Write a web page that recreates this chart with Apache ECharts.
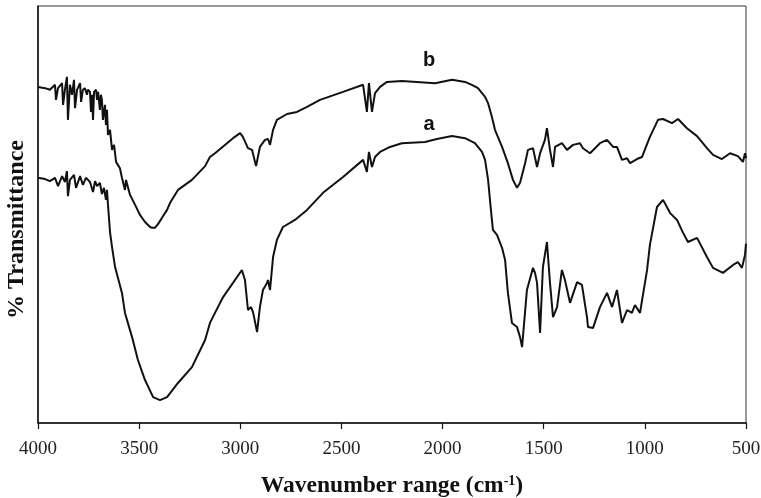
<!DOCTYPE html>
<html>
<head>
<meta charset="utf-8">
<script src="https://cdn.jsdelivr.net/npm/echarts@6/dist/echarts.min.js"></script>
<style>html,body{margin:0;padding:0;background:#fff}#c{width:761px;height:498px}</style>
</head>
<body>
<div id="c"></div>
<script>
// Wavenumber (cm-1) and % transmittance (arbitrary offset scale)
const bWave = [4000,3965,3941,3916,3911,3901,3881,3876,3867,3857,3852,3842,3832,3822,3817,3807,3792,3787,3778,3768,3758,3753,3743,3738,3733,3728,3723,3713,3708,3703,3694,3689,3684,3679,3669,3664,3659,3654,3644,3634,3624,3614,3605,3595,3585,3570,3565,3545,3520,3496,3471,3446,3436,3422,3407,3387,3362,3347,3308,3239,3174,3150,3125,3036,3001,2987,2962,2942,2922,2903,2878,2863,2853,2838,2819,2769,2720,2670,2606,2492,2393,2374,2364,2349,2334,2309,2275,2201,2037,1953,1889,1855,1825,1790,1775,1756,1741,1706,1677,1652,1632,1617,1592,1578,1553,1533,1518,1494,1484,1469,1454,1444,1410,1385,1355,1321,1306,1271,1222,1187,1157,1138,1113,1088,1073,1039,1014,975,935,910,866,836,792,742,693,663,619,579,540,515,505,500];
const bTrans = [80.6,80.3,79.9,81.1,77.5,80.3,81.5,76.3,79.9,83.0,72.7,81.1,78.7,82.3,75.5,79.9,81.5,77.0,79.9,80.3,78.7,79.9,79.4,74.6,78.7,72.7,79.4,79.9,77.5,79.4,75.1,78.7,77.5,72.7,76.3,71.5,75.1,69.1,70.3,65.5,66.7,62.6,61.9,61.1,58.8,55.9,58.3,54.7,52.3,49.9,48.2,47.0,46.8,46.8,47.7,49.2,51.1,52.8,55.9,58.3,61.6,63.8,64.7,68.3,69.5,68.6,65.9,65.5,61.6,66.2,67.9,68.1,66.7,70.3,72.7,74.1,74.6,75.8,77.5,79.4,81.1,74.6,81.5,74.6,79.1,80.6,81.8,82.0,81.5,82.3,81.8,81.1,80.3,78.2,76.7,73.4,70.3,66.2,62.3,58.3,56.4,57.6,62.3,65.5,65.9,61.4,64.7,67.9,70.7,65.5,61.4,66.2,67.1,65.5,66.7,67.1,65.9,64.7,67.1,67.9,66.2,66.2,63.1,63.5,62.3,63.3,63.8,68.6,72.7,72.9,71.9,72.9,70.7,68.8,65.9,64.3,63.3,64.7,64.0,62.6,64.7,63.5];

const aWave = [4000,3965,3941,3916,3901,3881,3867,3857,3852,3842,3822,3812,3792,3778,3763,3753,3743,3728,3718,3708,3694,3684,3674,3664,3659,3654,3644,3634,3619,3585,3570,3535,3506,3471,3431,3397,3362,3308,3239,3174,3150,3125,3085,3036,2992,2977,2962,2947,2937,2917,2903,2888,2868,2863,2853,2838,2819,2789,2730,2670,2591,2492,2393,2374,2364,2349,2334,2309,2260,2201,2087,2028,1953,1889,1840,1805,1790,1775,1761,1751,1731,1706,1691,1677,1657,1632,1617,1607,1583,1553,1543,1533,1518,1504,1484,1469,1454,1434,1410,1395,1370,1335,1311,1286,1281,1256,1222,1187,1162,1138,1113,1088,1064,1049,1024,989,975,940,910,876,841,811,787,742,693,663,614,564,540,520,505,500];
const aTrans = [58.8,58.5,58.0,58.8,56.8,59.2,57.8,60.4,54.4,58.3,59.5,56.4,59.2,57.1,58.8,58.3,57.8,55.4,58.0,56.8,57.6,54.9,56.4,53.5,55.9,52.3,45.8,42.2,37.4,31.2,26.4,20.6,15.1,10.3,6.2,5.5,6.2,9.6,13.4,19.9,24.0,26.4,30.2,33.6,36.7,34.3,27.1,27.8,26.6,21.8,27.8,31.9,33.6,34.3,31.9,39.8,43.9,47.0,48.7,51.1,55.2,59.0,63.1,60.2,65.0,61.4,63.8,65.0,66.2,67.1,67.4,68.1,68.8,68.3,67.1,65.0,63.1,58.3,51.1,46.3,45.1,42.0,39.1,31.2,24.0,23.0,20.6,18.2,31.9,37.2,36.0,33.6,21.6,37.4,43.4,33.6,25.4,27.8,36.7,34.3,28.8,33.8,33.1,25.4,23.0,22.8,27.8,31.2,27.8,31.9,24.0,27.1,26.4,28.3,26.4,36.7,42.7,51.8,53.5,50.4,48.7,45.6,43.4,44.4,39.8,37.2,36.0,37.9,38.6,37.2,40.3,43.0];

const xTicks = [4000,3500,3000,2500,2000,1500,1000,500];
const labelA = {name:'a', wave:2067, trans:71.5};
const labelB = {name:'b', wave:2067, trans:87.0};

const zip = (xs, ys) => xs.map((x, i) => [x, ys[i]]);
const chart = echarts.init(document.getElementById('c'), null, {renderer:'canvas'});
const lineStyle = {color:'#111', width:2};
const labelMark = (l) => ({
  symbol:'circle', symbolSize:0, silent:true,
  label:{show:true, position:'inside', formatter:l.name, fontFamily:'Liberation Sans', fontWeight:'bold', fontSize:20, color:'#111'},
  data:[{coord:[l.wave, l.trans]}]
});
chart.setOption({
  animation:false,
  backgroundColor:'#fff',
  grid:{left:38, right:15, top:6, bottom:75, containLabel:false, outerBoundsMode:'none',
    show:true, borderColor:'#333', borderWidth:1, backgroundColor:'transparent'},
  xAxis:{
    type:'value', inverse:true, min:500, max:4000, interval:500,
    axisLine:{show:true, onZero:false, lineStyle:{color:'#111', width:1.5}},
    axisTick:{show:true, inside:false, length:6, lineStyle:{color:'#111', width:1.2}},
    axisLabel:{show:true, margin:17, fontFamily:'Liberation Serif', fontSize:19, color:'#222',
      formatter:(v)=> xTicks.includes(v) ? String(v) : ''},
    splitLine:{show:false},
    name:'Wavenumber range (cm{sup|-1})',
    nameLocation:'middle', nameGap:51,
    nameTextStyle:{fontFamily:'Liberation Serif', fontWeight:'bold', fontSize:23.5, color:'#111',
      rich:{sup:{fontFamily:'Liberation Serif', fontWeight:'bold', fontSize:14, color:'#111', verticalAlign:'top', padding:[0,0,10,0]}}}
  },
  yAxis:{
    type:'value', min:0, max:100,
    axisLine:{show:true, onZero:false, lineStyle:{color:'#111', width:1.5}},
    axisTick:{show:false}, axisLabel:{show:false}, splitLine:{show:false},
    name:'% Transmittance', nameLocation:'middle', nameGap:9, nameRotate:90,
    nameTextStyle:{fontFamily:'Liberation Serif', fontWeight:'bold', fontSize:24, color:'#111', padding:[0,30,0,0]}
  },
  series:[
    {type:'line', name:'b', data:zip(bWave,bTrans), showSymbol:false, lineStyle, markPoint:labelMark(labelB)},
    {type:'line', name:'a', data:zip(aWave,aTrans), showSymbol:false, lineStyle, markPoint:labelMark(labelA)}
  ]
});
</script>
</body>
</html>
